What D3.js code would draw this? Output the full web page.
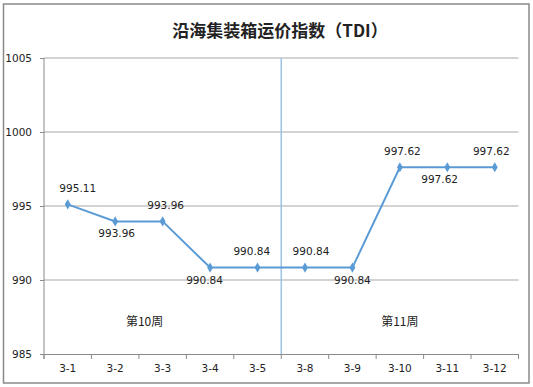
<html>
<head>
  <meta charset="utf-8">
  <style>
    body {
      margin: 0;
      background: #ffffff;
    }
    text {
      font-family: "DejaVu Sans", sans-serif;
      fill: #222;
    }
    .cjk {
      font-family: "Noto Sans CJK SC", sans-serif;
    }
  </style>
</head>
<body>
  <div id="chart"></div>
  <script src="https://d3js.org/d3.v7.min.js"></script>
  <script>
    var dates = ["3-1", "3-2", "3-3", "3-4", "3-5", "3-8", "3-9", "3-10", "3-11", "3-12"];
    var tdi = [995.11, 993.96, 993.96, 990.84, 990.84, 990.84, 990.84, 997.62, 997.62, 997.62];
    var yTicks = [985, 990, 995, 1000, 1005];
    var weeks = ["第10周", "第11周"];

    // label placement, roughly as Excel put them
    var labelSide = ["up", "down", "up", "down", "up", "up", "down", "up", "down", "up"];
    var labelDx = [10, 1.5, 3, -5.5, -5.7, 6, 0, 2.5, -7.7, -3.5];

    var width = 533,
        height = 387,
        margin = {top: 58, right: 14, bottom: 33, left: 44};

    var svg = d3.select("#chart")
      .append("svg")
      .attr("width", width)
      .attr("height", height);

    // outer frame
    svg.append("rect")
      .attr("x", 3.5).attr("y", 4)
      .attr("width", 525.5).attr("height", 379)
      .attr("fill", "none")
      .attr("stroke", "#8a8a8a")
      .attr("stroke-width", 1.5);

    svg.append("text")
      .attr("class", "cjk")
      .attr("x", 280).attr("y", 37)
      .attr("text-anchor", "middle")
      .style("font-size", "17px")
      .style("font-weight", "bold")
      .text("沿海集装箱运价指数（TDI）");

    var x = d3.scaleBand()
      .domain(dates)
      .range([margin.left, width - margin.right - 0.5]);

    var y = d3.scaleLinear()
      .domain([985, 1005])
      .range([height - margin.bottom, margin.top]);

    // grid lines
    svg.append("g")
      .selectAll("line")
      .data(yTicks.filter(function (d) { return d > 985; }))
      .enter().append("line")
      .attr("x1", margin.left).attr("x2", x.range()[1])
      .attr("y1", function (d) { return y(d); })
      .attr("y2", function (d) { return y(d); })
      .attr("stroke", "#c4c4c4")
      .attr("stroke-width", 1.5);

    // y axis
    var yAxis = svg.append("g")
      .attr("transform", "translate(" + margin.left + ",0)")
      .call(d3.axisLeft(y).tickValues(yTicks).tickFormat(d3.format("d")).tickSize(4).tickPadding(8));
    yAxis.select(".domain").remove();
    yAxis.selectAll(".tick line").attr("stroke", "#8a8a8a");
    yAxis.selectAll(".tick text")
      .style("font-size", "10.5px")
      .style("font-family", "DejaVu Sans, sans-serif")
      .attr("fill", "#222");
    yAxis.append("line")
      .attr("y1", y(1005)).attr("y2", y(985) + 5)
      .attr("stroke", "#8a8a8a");

    // x axis
    var xAxis = svg.append("g")
      .attr("transform", "translate(0," + y(985) + ")")
      .call(d3.axisBottom(x).tickSize(0).tickPadding(11));
    xAxis.select(".domain").attr("stroke", "#8a8a8a");
    xAxis.selectAll(".tick text")
      .style("font-size", "10.5px")
      .style("font-family", "DejaVu Sans, sans-serif")
      .attr("fill", "#222");
    xAxis.selectAll(".sep")
      .data(dates.concat(["end"]))
      .enter().append("line")
      .attr("x1", function (d, i) { return i < dates.length ? x(d) : x.range()[1]; })
      .attr("x2", function (d, i) { return i < dates.length ? x(d) : x.range()[1]; })
      .attr("y1", 0).attr("y2", 5)
      .attr("stroke", "#8a8a8a");

    // week divider
    svg.append("line")
      .attr("x1", x("3-8")).attr("x2", x("3-8"))
      .attr("y1", y(1005)).attr("y2", y(985))
      .attr("stroke", "#9dc3e6")
      .attr("stroke-width", 1.5);

    var cx = function (d, i) { return x(dates[i]) + x.bandwidth() / 2; };

    var line = d3.line()
      .x(function (d, i) { return cx(d, i); })
      .y(function (d) { return y(d); });

    svg.append("path")
      .datum(tdi)
      .attr("d", line)
      .attr("fill", "none")
      .attr("stroke", "#5b9bd5")
      .attr("stroke-width", 2);

    svg.append("g")
      .selectAll("path")
      .data(tdi)
      .enter().append("path")
      .attr("d", d3.symbol().type(d3.symbolDiamond).size(30))
      .attr("transform", function (d, i) { return "translate(" + cx(d, i) + "," + y(d) + ")"; })
      .attr("fill", "#5b9bd5");

    svg.append("g")
      .selectAll("text")
      .data(tdi)
      .enter().append("text")
      .attr("x", function (d, i) { return cx(d, i) + labelDx[i]; })
      .attr("y", function (d, i) { return y(d) + (labelSide[i] === "up" ? -12.5 : 16); })
      .attr("text-anchor", "middle")
      .style("font-size", "10.5px")
      .text(function (d) { return d3.format(".2f")(d); });

    // week labels
    svg.append("text")
      .attr("class", "cjk")
      .attr("x", x("3-3") + x.bandwidth() / 2 - 18)
      .attr("y", y(987.16))
      .attr("dy", "0.35em")
      .attr("text-anchor", "middle")
      .style("font-size", "12px")
      .text(weeks[0]);

    svg.append("text")
      .attr("class", "cjk")
      .attr("x", x("3-10") + x.bandwidth() / 2)
      .attr("y", y(987.16))
      .attr("dy", "0.35em")
      .attr("text-anchor", "middle")
      .style("font-size", "12px")
      .text(weeks[1]);
  </script>
</body>
</html>
